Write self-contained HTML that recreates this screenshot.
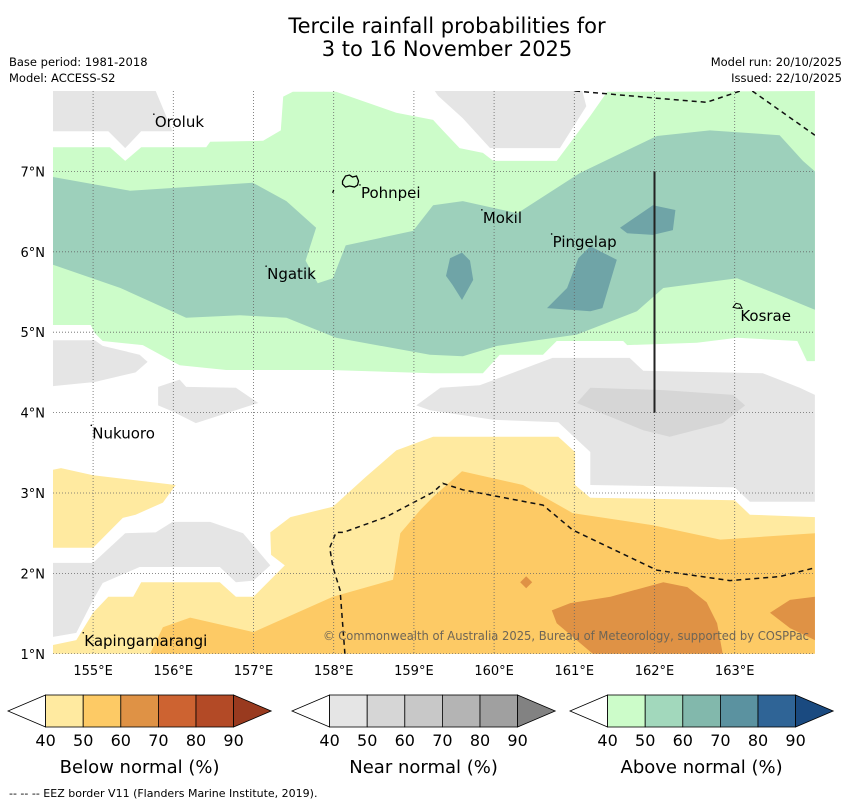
<!DOCTYPE html>
<html><head><meta charset="utf-8"><style>
body{margin:0;background:#fff;width:850px;height:804px;overflow:hidden;font-family:"DejaVu Sans","Liberation Sans",sans-serif}
svg text{font-family:"DejaVu Sans","Liberation Sans",sans-serif}
</style></head><body>
<svg id="chart" width="850" height="804" viewBox="0 0 850 804" xmlns="http://www.w3.org/2000/svg">
<text x="447" y="33" font-size="21" text-anchor="middle">Tercile rainfall probabilities for</text>
<text x="447" y="56" font-size="21" text-anchor="middle">3 to 16 November 2025</text>
<text x="9" y="66" font-size="11.5">Base period: 1981-2018</text>
<text x="9" y="82" font-size="11.5">Model: ACCESS-S2</text>
<text x="842" y="66" font-size="11.5" text-anchor="end">Model run: 20/10/2025</text>
<text x="842" y="82" font-size="11.5" text-anchor="end">Issued: 22/10/2025</text>
<defs><clipPath id="mapclip"><rect x="53" y="91" width="762" height="563"/></clipPath></defs>
<g id="map" clip-path="url(#mapclip)"></g>
<g id="axes"></g>
<g id="cbars"></g>
<text x="9" y="797" font-size="11">--  --  -- EEZ border V11 (Flanders Marine Institute, 2019).</text>
</svg>
<script>
const lonTicks=[155,156,157,158,159,160,161,162,163];
const latTicks=[1,2,3,4,5,6,7];
const lonLabels=["155°E","156°E","157°E","158°E","159°E","160°E","161°E","162°E","163°E"];
const latLabels=["1°N","2°N","3°N","4°N","5°N","6°N","7°N"];
const regionNames=["light-green-50","grey-top-left","grey-top-mid","dark-green-60","teal-70-a","teal-70-b","teal-70-c","grey-left","grey-small","grey-large","grey-dark-inner","grey-bottom-left","yellow-left","yellow-main","orange-60","dark-orange-a","dark-orange-b"];
const regionColors=["#ccfcc9","#e5e5e5","#e5e5e5","#9dd0bb","#6fa4a7","#6fa4a7","#6fa4a7","#e5e5e5","#e5e5e5","#e5e5e5","#d6d6d6","#e5e5e5","#ffeaa0","#ffeaa0","#fdca65","#df9245","#df9245"];
const regionLon=[
[154.5,155.21,155.40,155.60,156.41,156.46,157.12,157.34,157.37,157.49,158.03,158.78,159.24,159.36,159.57,159.86,159.99,160.78,161.20,161.41,164,164,163.90,163.78,163.03,162.53,161.66,161.61,160.78,160.61,160.07,159.86,159.24,157.95,156.66,156.08,155.62,155.12,155.02,154.97,154.5],
[154.5,155.78,155.99,155.60,155.40,155.19,154.5],
[159.26,161.10,161.15,160.82,159.95,159.61,159.30],
[154.5,155.46,156.99,157.41,157.78,157.65,157.80,157.99,158.15,158.99,159.24,159.61,160.29,161.07,162.03,162.69,163.56,163.85,164,164,163.56,163.03,162.11,161.78,161.03,160.04,159.61,159.20,158.03,157.41,156.83,156.16,155.34,154.5],
[159.60,159.70,159.74,159.60,159.48,159.40,159.45],
[161.20,161.53,161.35,161.20,160.66,160.91,161.05],
[161.57,161.98,162.26,162.23,161.98,161.66],
[154.5,155.02,155.12,155.58,155.68,155.53,155.02,154.5],
[155.81,156.08,156.16,156.78,157.06,156.28,156.0,155.81],
[159.03,159.33,159.82,160.73,161.69,161.86,163.35,163.81,164,164,163.19,163.0,161.20,161.20,160.80,159.99,159.20],
[161.03,161.20,162.11,162.98,163.13,162.85,162.19,161.86],
[154.5,155.0,155.40,155.78,155.99,156.46,156.87,157.21,157.0,156.78,156.58,155.58,155.12,155.0,154.79,154.5],
[154.5,154.60,155.0,156.03,155.87,155.53,155.37,155.0,154.5],
[154.5,154.5,154.79,155.0,155.19,155.50,155.60,156.58,156.78,157.0,157.39,157.22,157.21,157.46,157.99,158.40,158.78,159.24,160.80,161.01,161.01,161.20,163.0,163.19,164,164],
[155.71,155.87,156.21,157.0,157.99,158.74,158.83,159.08,159.24,159.60,160.36,160.98,161.98,162.82,164,164],
[160.72,160.95,161.45,162.11,162.41,162.65,162.78,162.85,161.23,160.78],
[163.44,163.69,164,164,163.69]
];
const regionLat=[
[7.30,7.30,7.13,7.30,7.30,7.37,7.38,7.51,7.93,7.99,7.99,7.73,7.64,7.51,7.29,7.23,7.13,7.13,7.69,7.99,8.0,4.64,4.64,4.89,4.93,4.87,4.84,4.89,4.89,4.72,4.72,4.49,4.49,4.53,4.53,4.59,4.84,4.89,4.99,5.09,5.09],
[8,8,7.50,7.50,7.29,7.50,7.50],
[8,8,7.81,7.29,7.29,7.66,7.94],
[6.93,6.76,6.86,6.63,6.30,5.89,5.61,5.67,6.08,6.26,6.58,6.63,6.48,6.98,7.44,7.51,7.45,7.13,7.0,5.28,5.46,5.67,5.55,5.26,4.97,4.83,4.70,4.72,4.93,5.18,5.21,5.18,5.55,5.84],
[5.99,5.89,5.65,5.40,5.59,5.70,5.92],
[6.07,5.90,5.30,5.26,5.30,5.55,5.92],
[6.30,6.58,6.52,6.27,6.21,6.23],
[4.90,4.90,4.83,4.72,4.63,4.50,4.38,4.33],
[4.32,4.41,4.32,4.31,4.12,3.87,4.01,4.09],
[4.09,4.31,4.34,4.68,4.68,4.52,4.49,4.31,4.22,2.89,2.89,3.07,3.10,3.51,3.88,3.91,4.03],
[4.12,4.31,4.28,4.22,4.09,3.87,3.70,3.78],
[2.13,2.13,2.50,2.51,2.64,2.64,2.50,2.10,1.91,1.89,2.08,2.08,1.88,1.67,1.26,1.21],
[3.29,3.31,3.22,3.10,2.88,2.73,2.69,2.32,2.32],
[1.0,1.11,1.17,1.51,1.71,1.71,1.89,1.89,1.71,1.71,2.10,2.23,2.51,2.70,2.83,3.20,3.53,3.70,3.70,3.51,3.10,2.94,2.91,2.73,2.70,1.0],
[1.0,1.33,1.45,1.27,1.71,1.92,2.50,2.79,2.95,3.27,3.10,2.75,2.60,2.42,2.50,1.0],
[1.54,1.63,1.71,1.89,1.83,1.64,1.38,1.0,1.0,1.38],
[1.51,1.67,1.71,1.17,1.32]
];
const diamondLon=[160.40];
const diamondLat=[1.89];
const eezLon=[[161.01,162.03,162.65,163.07],[163.22,164],[158.14,158.08,157.99,157.95,158.03,158.12,158.65,159.24,159.36,159.61,160.61,160.98,162.03,162.94,163.56,164]];
const eezLat=[[8,7.91,7.86,8.0],[8,7.45],[1.0,1.79,2.08,2.32,2.51,2.51,2.70,3.01,3.12,3.04,2.85,2.54,2.04,1.91,1.96,2.07]];
const placeNames=["Oroluk","Pohnpei","Mokil","Pingelap","Ngatik","Kosrae","Nukuoro","Kapingamarangi"];
const placeLon=[155.77,158.34,159.86,160.73,157.17,163.07,154.99,154.89];
const placeLat=[7.55,6.67,6.36,6.06,5.66,5.14,3.68,1.10];
const lineLon=[162,162];
const lineLat=[7,4];

const NS="http://www.w3.org/2000/svg";
const X=lon=>53+(lon-154.5)*80.2;
const Y=lat=>91+(8-lat)*80.4;
function mk(tag,parent){const e=document.createElementNS(NS,tag);parent.appendChild(e);return e;}
const map=document.getElementById('map');
const bg=mk('rect',map);bg.setAttribute('x',53);bg.setAttribute('y',91);bg.setAttribute('width',762);bg.setAttribute('height',563);bg.setAttribute('fill','#fff');


regionLon.forEach((lons,i)=>{
  const p=mk('polygon',map);
  p.setAttribute('points',lons.map((lo,j)=>X(lo).toFixed(1)+','+Y(regionLat[i][j]).toFixed(1)).join(' '));
  p.setAttribute('fill',regionColors[i]);
  
  
});
diamondLon.forEach((lo,i)=>{
  const cx=X(lo),cy=Y(diamondLat[i]);
  const p=mk('polygon',map);
  p.setAttribute('points',`${cx},${cy-6} ${cx+6},${cy} ${cx},${cy+6} ${cx-6},${cy}`);
  p.setAttribute('fill','#df9245');
  
  
});
eezLon.forEach((lons,i)=>{
  const p=mk('polyline',map);
  p.setAttribute('points',lons.map((lo,j)=>X(lo).toFixed(1)+','+Y(eezLat[i][j]).toFixed(1)).join(' '));
  p.setAttribute('fill','none');p.setAttribute('stroke','#111');p.setAttribute('stroke-width','1.5');p.setAttribute('stroke-dasharray','5,4');
  
  
});
lonTicks.forEach(lo=>{const l=mk('line',map);l.setAttribute('x1',X(lo));l.setAttribute('x2',X(lo));l.setAttribute('y1',91);l.setAttribute('y2',654);l.setAttribute('stroke','#666');l.setAttribute('stroke-width','0.8');l.setAttribute('stroke-dasharray','1,2');

});
latTicks.forEach(la=>{const l=mk('line',map);l.setAttribute('y1',Y(la));l.setAttribute('y2',Y(la));l.setAttribute('x1',53);l.setAttribute('x2',815);l.setAttribute('stroke','#666');l.setAttribute('stroke-width','0.8');l.setAttribute('stroke-dasharray','1,2');

});
const vl=mk('line',map);vl.setAttribute('x1',X(lineLon[0]));vl.setAttribute('x2',X(lineLon[1]));vl.setAttribute('y1',Y(lineLat[0]));vl.setAttribute('y2',Y(lineLat[1]));vl.setAttribute('stroke','#222');vl.setAttribute('stroke-width','2');


const pn=mk('path',map);
pn.setAttribute('d',`M${X(158.11)},${Y(6.88)} l3,-5 l4,-1 l3,2 l4,-1 l2,5 l-1,4 l-3,2 l-5,-1 l-4,1 l-3,-3 z M${X(158.0)},${Y(6.77)} l-1,3`);
pn.setAttribute('fill','none');pn.setAttribute('stroke','#000');pn.setAttribute('stroke-width','1.3');


const ks=mk('path',map);
ks.setAttribute('d',`M${X(162.98)},${Y(5.31)} l3,-4 l4,1 l2,4 l-5,0 z`);
ks.setAttribute('fill','none');ks.setAttribute('stroke','#000');ks.setAttribute('stroke-width','1');


placeNames.forEach((n,i)=>{
  const t=mk('text',map);t.setAttribute('x',X(placeLon[i]));t.setAttribute('y',Y(placeLat[i]));t.setAttribute('font-size','15');t.textContent=n;
  
  
  const d=mk('circle',map);d.setAttribute('cx',X(placeLon[i])-1);d.setAttribute('cy',Y(placeLat[i])-13);d.setAttribute('r','0.8');d.setAttribute('fill','#000');
  
  
});
const cp=mk('text',map);cp.setAttribute('x',323);cp.setAttribute('y',640);cp.setAttribute('font-size','12');cp.setAttribute('fill','#6e6556');cp.setAttribute('textLength','486');cp.setAttribute('lengthAdjust','spacingAndGlyphs');cp.textContent='© Commonwealth of Australia 2025, Bureau of Meteorology, supported by COSPPac';


const ax=document.getElementById('axes');
lonTicks.forEach((lo,i)=>{const t=mk('text',ax);t.setAttribute('x',X(lo));t.setAttribute('y',675);t.setAttribute('font-size','13');t.setAttribute('text-anchor','middle');t.textContent=lonLabels[i];

});
latTicks.forEach((la,i)=>{const t=mk('text',ax);t.setAttribute('x',45);t.setAttribute('y',Y(la)+5);t.setAttribute('font-size','13');t.setAttribute('text-anchor','end');t.textContent=latLabels[i];

});
const cbTitles=["Below normal (%)","Near normal (%)","Above normal (%)"];
const cbStarts=[8,292,570];
const cbColors=[["#fff","#ffeaa0","#fdca65","#df9245","#cd6331","#b34a26","#993a1f"],["#fff","#e5e5e5","#d6d6d6","#c8c8c8","#b4b4b4","#a0a0a0","#828282"],["#fff","#ccfcc9","#a2d8bc","#82b8ac","#5b92a0","#2f6496","#1a4a80"]];
const cbLabels=["40","50","60","70","80","90"];
const cb=document.getElementById('cbars');
cbStarts.forEach((x0,k)=>{
  const w=37.6,top=695,h=32,cy=711;
  const lt=mk('polygon',cb);lt.setAttribute('points',`${x0},${cy} ${x0+w},${top} ${x0+w},${top+h}`);lt.setAttribute('fill',cbColors[k][0]);lt.setAttribute('stroke','#000');lt.setAttribute('stroke-width','0.8');
  
  
  for(let j=1;j<=5;j++){const r=mk('rect',cb);r.setAttribute('x',x0+w*j);r.setAttribute('y',top);r.setAttribute('width',w);r.setAttribute('height',h);r.setAttribute('fill',cbColors[k][j]);r.setAttribute('stroke','#000');r.setAttribute('stroke-width','0.8');
  
  }
  const rt=mk('polygon',cb);rt.setAttribute('points',`${x0+w*6},${top} ${x0+w*7},${cy} ${x0+w*6},${top+h}`);rt.setAttribute('fill',cbColors[k][6]);rt.setAttribute('stroke','#000');rt.setAttribute('stroke-width','0.8');
  
  
  cbLabels.forEach((s,j)=>{const t=mk('text',cb);t.setAttribute('x',x0+w*(j+1));t.setAttribute('y',746);t.setAttribute('font-size','16');t.setAttribute('text-anchor','middle');t.textContent=s;
  
  });
  const tt=mk('text',cb);tt.setAttribute('x',x0+w*3.5);tt.setAttribute('y',773);tt.setAttribute('font-size','18');tt.setAttribute('text-anchor','middle');tt.textContent=cbTitles[k];
  
  
});
</script>
</body></html>
